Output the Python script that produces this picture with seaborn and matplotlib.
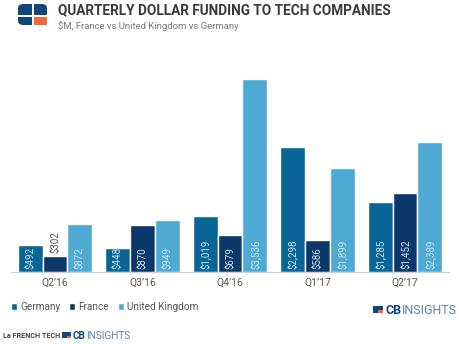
import matplotlib
matplotlib.use("Agg")
import matplotlib.pyplot as plt
from matplotlib.patches import FancyBboxPatch, Rectangle
import seaborn as sns
import pandas as pd

quarters = ["Q2’16", "Q3’16", "Q4’16", "Q1’17", "Q2’17"]
countries = ["Germany", "France", "United Kingdom"]
germany = [492, 448, 1019, 2298, 1285]
france = [302, 870, 679, 586, 1452]
uk = [872, 949, 3536, 1899, 2389]

colors = {"Germany": "#0a6597", "France": "#0b3868", "United Kingdom": "#4eaad2"}

rows = []
for c, vals in zip(countries, [germany, france, uk]):
    for q, v in zip(quarters, vals):
        rows.append({"quarter": q, "country": c, "value": v})
df = pd.DataFrame(rows)

sns.set_style("white")
plt.rcParams["font.family"] = ["Roboto", "DejaVu Sans"]

W, H = 460, 344
fig = plt.figure(figsize=(W / 100, H / 100), dpi=100)
ax = fig.add_axes([11.25 / W, (H - 272) / H, (448.75 - 11.25) / W, (272 - 75) / H])

sns.barplot(data=df, x="quarter", y="value", hue="country", order=quarters,
            hue_order=countries, palette=colors, width=0.85, gap=0,
            saturation=1, ax=ax, legend=True)

ax.set_ylim(0, 3609)
ax.set_xlim(-0.5, len(quarters) - 0.5)
ax.set_xlabel("")
ax.set_ylabel("")
ax.set_yticks([])
for s in ["top", "left", "right"]:
    ax.spines[s].set_visible(False)
ax.spines["bottom"].set_color("#d0d0d0")
ax.spines["bottom"].set_linewidth(0.8)
ax.tick_params(axis="x", length=0, pad=4, labelsize=7.5, labelcolor="#555555")

# value labels, written upward from the base of each bar
for container, c in zip(ax.containers, countries):
    for bar, v in zip(container, df[df.country == c]["value"]):
        x = bar.get_x() + bar.get_width() / 2
        label = f"${v:,.0f}"
        if v < 400:
            ax.annotate(label, (x, v), xytext=(0, 2), textcoords="offset points",
                        rotation=90, ha="center", va="bottom", fontsize=7,
                        color="#555555")
        else:
            ax.annotate(label, (x, 0), xytext=(0, 2), textcoords="offset points",
                        rotation=90, ha="center", va="bottom", fontsize=7,
                        color="#c4e5f6")

leg = ax.legend(loc="center left", bbox_to_anchor=(6 / W, (H - 307) / H),
                bbox_transform=fig.transFigure, ncol=3, frameon=False,
                handlelength=0.6, handleheight=0.6, handletextpad=0.3,
                columnspacing=0.9, fontsize=7.2, borderpad=0)
for t in leg.get_texts():
    t.set_color("#555555")

# header logo
logo = FancyBboxPatch((18 / W, 1 - 25 / H), 29 / W, 21 / H,
                      boxstyle="round,pad=0,rounding_size=0.012",
                      transform=fig.transFigure, facecolor="#12467a",
                      edgecolor="none")
fig.patches.append(logo)
fig.patches.append(Rectangle((34 / W, 1 - 25 / H), 13 / W, 9 / H,
                             transform=fig.transFigure, facecolor="#f26a36",
                             edgecolor="none"))
fig.patches.append(Rectangle((18 / W, 1 - 16.5 / H), 29 / W, 1.8 / H,
                             transform=fig.transFigure, facecolor="white",
                             edgecolor="none"))
fig.patches.append(Rectangle((32.5 / W, 1 - 25 / H), 1.8 / W, 21 / H,
                             transform=fig.transFigure, facecolor="white",
                             edgecolor="none"))

fig.text(58 / W, 1 - 10.5 / H, "QUARTERLY DOLLAR FUNDING TO TECH COMPANIES",
         fontsize=9.8, fontweight="bold", color="#3a3a3a", va="center")
fig.text(58 / W, 1 - 26 / H, "$M, France vs United Kingdom vs Germany",
         fontsize=6.8, color="#777777", va="center")


def cb_mark(x, y, size):
    # small CB Insights mark: navy block with an orange corner
    fig.patches.append(Rectangle((x / W, (H - y - size * 0.7) / H), size / W,
                                 size * 0.7 / H, transform=fig.transFigure,
                                 facecolor="#12467a", edgecolor="none"))
    fig.patches.append(Rectangle(((x + size * 0.55) / W, (H - y - size * 0.7) / H),
                                 size * 0.45 / W, size * 0.3 / H,
                                 transform=fig.transFigure,
                                 facecolor="#f26a36", edgecolor="none"))


renderer = fig.canvas.get_renderer()


def cb_word(x, y, fs):
    t1 = fig.text(x / W, 1 - y / H, "CB", fontsize=fs, fontweight="bold",
                  color="#12467a", va="center")
    bb = t1.get_window_extent(renderer=renderer)
    fig.text((bb.x1 + 0.5) / W, 1 - y / H, "INSIGHTS", fontsize=fs,
             color="#5a86a8", va="center")


cb_mark(373, 306, 10)
cb_word(385, 310.5, 9)

fig.text(3 / W, 1 - 336 / H, "La FRENCH TECH", fontsize=5.2, fontweight="bold",
         color="#444444", va="center")
cb_mark(62, 332, 9)
cb_word(73, 336, 7.2)

fig.savefig("out.png", dpi=100)
